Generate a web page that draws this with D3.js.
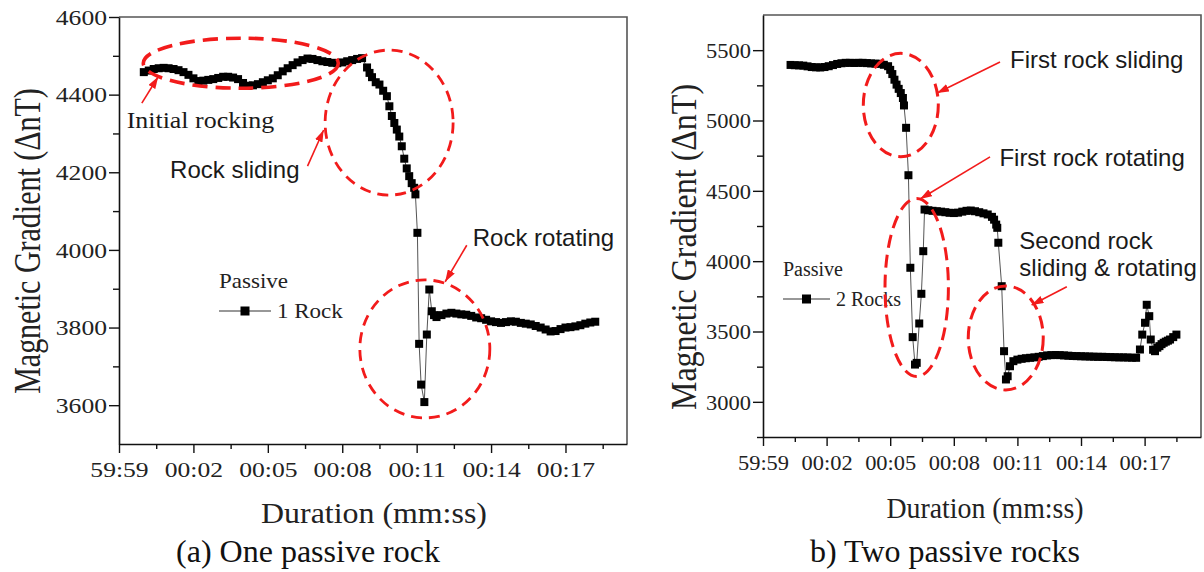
<!DOCTYPE html>
<html>
<head>
<meta charset="utf-8">
<script src="https://cdn.jsdelivr.net/npm/d3@7/dist/d3.min.js"></script>
<style>
  html, body { margin: 0; padding: 0; background: #fff; }
  svg { display: block; }
</style>
</head>
<body>
<svg id="fig" width="1204" height="572"></svg>
<script>
// ---- Data: magnetic gradient readings (seconds after 00:00, value in ΔnT) ----
// Panel (a): one passive rock
const timeA = [
  0.0,0.2,0.4,0.6,0.8,1.0,1.2,1.4,1.6,1.8,
  2.0,2.2,2.4,2.6,2.8,3.0,3.2,3.4,3.6,3.8,
  4.0,4.2,4.4,4.6,4.8,5.0,5.2,5.4,5.6,5.8,
  6.0,6.2,6.4,6.6,6.8,7.0,7.2,7.4,7.6,7.8,
  8.0,8.2,8.4,8.6,8.8,
  9.0,9.1,9.2,9.35,9.5,9.65,9.8,9.9,10.0,10.1,10.2,10.3,10.4,10.5,
  10.6,10.7,10.8,10.9,10.95,11.03,11.1,11.18,11.31,11.41,11.51,11.61,11.7,11.8,
  12.0,12.2,12.4,12.6,12.8,13.0,13.2,13.4,13.6,13.8,
  14.0,14.2,14.4,14.6,14.8,15.0,15.2,15.4,15.6,15.8,
  16.0,16.2,16.4,16.6,16.8,17.0,17.2,17.4,17.6,17.8,
  18.0,18.2
];
const gradA = [
  4458,4462,4466,4468,4469,4468,4466,4463,4458,4451,
  4442,4435,4436,4438,4440,4443,4446,4446,4444,4440,
  4430,4423,4424,4427,4432,4437,4442,4450,4460,4468,
  4476,4483,4489,4493,4492,4489,4486,4484,4482,4481,
  4483,4486,4489,4492,4494,
  4470,4456,4445,4432,4426,4410,4396,4370,4345,4327,4310,4292,4267,4235,
  4210,4190,4172,4160,4143,4044,3758,3653,3608,3782,3898,3842,3832,3827,
  3832,3836,3838,3836,3834,3833,3830,3826,3824,3820,
  3816,3814,3812,3814,3816,3815,3812,3810,3808,3804,
  3800,3795,3790,3791,3796,3800,3801,3803,3806,3810,
  3813,3815
];

// Panel (b): two passive rocks
const timeB = [
  0.3,0.5,0.7,0.9,1.1,1.3,1.5,1.7,1.9,2.1,
  2.3,2.5,2.7,2.9,3.1,3.3,3.5,3.7,3.9,4.1,
  4.3,4.5,4.7,4.9,
  5.0,5.1,5.2,5.3,5.4,5.5,5.6,5.65,5.75,5.86,5.95,6.06,6.17,6.25,6.37,6.47,6.56,6.62,
  6.8,7.0,7.2,7.4,7.6,7.8,8.0,8.2,8.4,8.6,8.8,9.0,9.2,9.4,9.6,
  9.8,9.9,10.0,10.05,10.1,10.26,10.37,10.46,10.54,10.65,10.81,
  11.0,11.2,11.4,11.6,11.8,12.0,12.2,12.4,12.6,12.8,
  13.0,13.2,13.4,13.6,13.8,14.0,14.2,14.4,14.6,14.8,
  15.0,15.2,15.4,15.6,15.8,16.0,16.2,16.4,16.6,
  16.78,16.89,17.02,17.1,17.22,17.29,17.4,17.49,17.6,17.7,17.8,17.9,18.0,18.1,18.2,18.35,18.5
];
const gradB = [
  5395,5393,5392,5390,5385,5380,5378,5377,5380,5386,
  5394,5402,5407,5410,5410,5409,5410,5410,5408,5406,
  5404,5403,5396,5386,
  5360,5330,5290,5255,5225,5195,5160,5107,4948,4611,3953,3460,3265,3277,3557,3768,4071,4367,
  4362,4358,4355,4352,4348,4344,4342,4345,4352,4358,4360,4355,4348,4340,4332,
  4315,4295,4260,4237,4131,3822,3360,3159,3182,3253,3289,
  3300,3306,3310,3313,3316,3320,3325,3330,3332,3333,
  3332,3330,3328,3326,3325,3324,3323,3322,3321,3320,
  3320,3319,3318,3317,3316,3316,3315,3314,3313,
  3372,3478,3562,3690,3609,3443,3370,3360,3385,3396,3410,3420,3428,3435,3443,3460,3478
];

// Axis ticks
const tickSeconds = [-1, 2, 5, 8, 11, 14, 17];
const tickLabels = ["59:59", "00:02", "00:05", "00:08", "00:11", "00:14", "00:17"];
const minorSeconds = [0.5, 3.5, 6.5, 9.5, 12.5, 15.5, 18.5];
const yTicksA = [3600, 3800, 4000, 4200, 4400, 4600];
const yMinorA = [3700, 3900, 4100, 4300, 4500];
const yTicksB = [3000, 3500, 4000, 4500, 5000, 5500];
const yMinorB = [2750, 3250, 3750, 4250, 4750, 5250];

const RED = "#f21b1b";
const SERIF = "'Liberation Serif', 'Times New Roman', serif";
const SANS = "'Liberation Sans', Arial, sans-serif";

const svg = d3.select("#fig");
const defs = svg.append("defs");
defs.append("marker")
  .attr("id", "redHead")
  .attr("viewBox", "0 0 12 8")
  .attr("refX", 12).attr("refY", 4)
  .attr("markerWidth", 12).attr("markerHeight", 8)
  .attr("markerUnits", "userSpaceOnUse")
  .attr("orient", "auto")
  .append("path").attr("d", "M0,0 L12,4 L0,8 Z").attr("fill", RED);

function drawPanel(p) {
  const x = d3.scaleLinear().domain(p.tDomain).range([p.left, p.right]);
  const y = d3.scaleLinear().domain(p.vDomain).range([p.bottom, p.top]);
  const g = svg.append("g");

  // frame (top / right)
  g.append("path")
    .attr("d", `M${p.left},${p.top} H${p.right} V${p.bottom}`)
    .attr("fill", "none").attr("stroke", "#555").attr("stroke-width", 1.6);

  // y axis
  const yAxis = g.append("g").attr("transform", `translate(${p.left},0)`)
    .call(d3.axisLeft(y).tickValues(p.yTicks).tickFormat(d3.format("d"))
      .tickSize(10).tickSizeOuter(0).tickPadding(0));
  g.append("g").attr("transform", `translate(${p.left},0)`)
    .call(d3.axisLeft(y).tickValues(p.yMinor).tickSize(6).tickSizeOuter(0).tickFormat(""))
    .select(".domain").remove();
  yAxis.selectAll("text")
    .attr("x", 0).attr("dy", "0.35em")
    .attr("transform", `translate(${-p.yLabelGap},0) scale(${p.sx},1)`)
    .style("font-family", SERIF).style("font-size", "21px").attr("fill", "#222");

  // x axis
  const xAxis = g.append("g").attr("transform", `translate(0,${p.bottom})`)
    .call(d3.axisBottom(x).tickValues(tickSeconds)
      .tickFormat((d, i) => tickLabels[i]).tickSize(9).tickSizeOuter(0));
  g.append("g").attr("transform", `translate(0,${p.bottom})`)
    .call(d3.axisBottom(x).tickValues(minorSeconds).tickSize(5).tickSizeOuter(0).tickFormat(""))
    .select(".domain").remove();
  xAxis.selectAll("text")
    .attr("y", 0).attr("dy", 0)
    .attr("transform", `translate(0,33) scale(${p.sx},1)`)
    .style("font-family", SERIF).style("font-size", "21px").attr("fill", "#222");

  svg.selectAll(".domain").attr("stroke", "#111").attr("stroke-width", 1.6);
  svg.selectAll(".tick line").attr("stroke", "#111").attr("stroke-width", 1.4);

  // axis titles
  g.append("text")
    .attr("transform", `translate(${p.yTitle[0]},${p.yTitle[1]}) scale(${p.yTitleSx},1) rotate(-90)`)
    .attr("text-anchor", "middle").attr("dominant-baseline", "central")
    .style("font-family", SERIF).style("font-size", p.yTitleSize + "px").attr("fill", "#222")
    .text("Magnetic Gradient (ΔnT)");
  g.append("text")
    .attr("transform", `translate(${p.xTitle[0]},${p.xTitle[1]}) scale(${p.xTitleSx},1)`)
    .attr("text-anchor", "middle")
    .style("font-family", SERIF).style("font-size", p.xTitleSize + "px").attr("fill", "#222")
    .text("Duration (mm:ss)");
  g.append("text")
    .attr("x", p.caption[0]).attr("y", p.caption[1])
    .attr("text-anchor", "middle")
    .style("font-family", SERIF).style("font-size", "32px").attr("fill", "#111")
    .text(p.captionText);

  // series
  const pts = p.times.map((t, i) => [t, p.values[i]]);
  g.append("path")
    .datum(pts)
    .attr("d", d3.line().x(d => x(d[0])).y(d => y(d[1])))
    .attr("fill", "none").attr("stroke", "#555").attr("stroke-width", 1);
  const ms = 8;
  g.selectAll("rect.pt").data(pts).join("rect").attr("class", "pt")
    .attr("x", d => x(d[0]) - ms / 2).attr("y", d => y(d[1]) - ms / 2)
    .attr("width", ms).attr("height", ms).attr("fill", "#000");

  // legend
  const L = p.legend;
  g.append("text")
    .attr("transform", `translate(${L.x},${L.y}) scale(${L.sx},1)`)
    .style("font-family", SERIF).style("font-size", "20px").attr("fill", "#222")
    .text("Passive");
  g.append("line")
    .attr("x1", L.x).attr("x2", L.x + L.lineW)
    .attr("y1", L.y + 23).attr("y2", L.y + 23)
    .attr("stroke", "#333").attr("stroke-width", 1.2);
  g.append("rect")
    .attr("x", L.x + L.lineW / 2 - 4.5).attr("y", L.y + 23 - 4.5)
    .attr("width", 9).attr("height", 9).attr("fill", "#000");
  g.append("text")
    .attr("transform", `translate(${L.x + L.lineW + 6},${L.y + 30}) scale(${L.sx},1)`)
    .style("font-family", SERIF).style("font-size", "20px").attr("fill", "#222")
    .text(p.seriesName);

  // annotations: dashed ellipses
  g.selectAll("ellipse.ring").data(p.rings).join("ellipse").attr("class", "ring")
    .attr("cx", d => x(d.t)).attr("cy", d => y(d.v))
    .attr("rx", d => d.rx).attr("ry", d => d.ry)
    .attr("fill", "none").attr("stroke", RED)
    .attr("stroke-width", d => d.w)
    .attr("stroke-dasharray", d => d.dash);

  // annotations: arrows
  g.selectAll("line.arrow").data(p.arrows).join("line").attr("class", "arrow")
    .attr("x1", d => x(d.from[0])).attr("y1", d => y(d.from[1]))
    .attr("x2", d => x(d.to[0])).attr("y2", d => y(d.to[1]))
    .attr("stroke", RED).attr("stroke-width", 1.6)
    .attr("marker-end", "url(#redHead)");

  // annotations: labels
  p.notes.forEach(n => {
    const t = g.append("text")
      .attr("transform", `translate(${x(n.t)},${y(n.v)}) scale(${n.sx},1)`)
      .style("font-family", n.font).style("font-size", n.size + "px").attr("fill", "#1a1a1a");
    n.lines.forEach((s, i) => {
      t.append("tspan").attr("x", 0).attr("dy", i === 0 ? 0 : n.lh).text(s);
    });
  });
}

drawPanel({
  left: 119, right: 627, top: 17, bottom: 444,
  tDomain: [-1, 19.48], vDomain: [3500, 4600],
  yTicks: yTicksA, yMinor: yMinorA, yLabelGap: 12, sx: 1.22,
  times: timeA, values: gradA,
  yTitle: [27, 241], yTitleSx: 1.25, yTitleSize: 30,
  xTitle: [374, 523], xTitleSx: 1.1, xTitleSize: 29,
  caption: [308, 562], captionText: "(a) One passive rock",
  legend: { x: 219, y: 288, sx: 1.15, lineW: 52 }, seriesName: "1 Rock",
  rings: [
    { t: 3.91, v: 4481, rx: 97.5, ry: 25, w: 3.6, dash: "15 8" },
    { t: 9.89, v: 4328, rx: 64, ry: 72.5, w: 2.8, dash: "11 7" },
    { t: 11.33, v: 3745, rx: 65, ry: 69, w: 2.8, dash: "11 7" }
  ],
  arrows: [
    { from: [-0.08, 4378], to: [0.58, 4446] },
    { from: [6.6, 4216], to: [7.25, 4309] },
    { from: [13.02, 4012], to: [12.15, 3918] }
  ],
  notes: [
    { t: -0.69, v: 4313, lines: ["Initial rocking"], font: SERIF, size: 24, sx: 1.08, lh: 0 },
    { t: 1.06, v: 4185, lines: ["Rock sliding"], font: SANS, size: 24, sx: 1, lh: 0 },
    { t: 13.26, v: 4010, lines: ["Rock rotating"], font: SANS, size: 24, sx: 1, lh: 0 }
  ]
});

drawPanel({
  left: 763, right: 1201, top: 15, bottom: 437,
  tDomain: [-1, 19.66], vDomain: [2750, 5750],
  yTicks: yTicksB, yMinor: yMinorB, yLabelGap: 12, sx: 1.07,
  times: timeB, values: gradB,
  yTitle: [684, 247], yTitleSx: 1.1, yTitleSize: 32,
  xTitle: [985, 518], xTitleSx: 0.96, xTitleSize: 29,
  caption: [945, 562], captionText: "b) Two passive rocks",
  legend: { x: 783, y: 276, sx: 1.0, lineW: 47 }, seriesName: "2 Rocks",
  rings: [
    { t: 5.5, v: 5110, rx: 37.5, ry: 51.7, w: 3, dash: "13 7" },
    { t: 6.25, v: 3813, rx: 31.7, ry: 89, w: 3, dash: "13 7" },
    { t: 10.45, v: 3454, rx: 37.5, ry: 52, w: 3, dash: "13 7" }
  ],
  arrows: [
    { from: [10.18, 5416], to: [7.21, 5195] },
    { from: [9.71, 4741], to: [6.41, 4442] },
    { from: [13.33, 3818], to: [11.67, 3688] }
  ],
  notes: [
    { t: 10.65, v: 5373, lines: ["First rock sliding"], font: SANS, size: 24, sx: 1, lh: 0 },
    { t: 10.15, v: 4677, lines: ["First rock rotating"], font: SANS, size: 24, sx: 1, lh: 0 },
    { t: 11.09, v: 4084, lines: ["Second rock", "sliding & rotating"], font: SANS, size: 24, sx: 1, lh: 27 }
  ]
});
</script>
</body>
</html>
